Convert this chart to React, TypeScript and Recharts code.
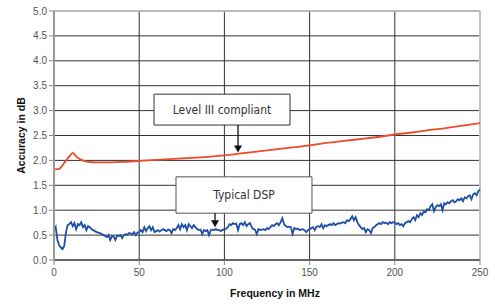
import React from "react";
import {
  LineChart,
  Line,
  XAxis,
  YAxis,
  CartesianGrid,
  ReferenceArea,
  ReferenceLine,
} from "recharts";

// red curve: Level III compliant limit
const redFreq: number[] = [0, 3, 6, 9, 11, 13, 16, 20, 25, 30, 40, 50, 60, 70, 80, 90, 100, 110, 120, 130, 140, 150, 160, 170, 180, 190, 200, 210, 220, 230, 240, 250];
const redVal: number[] = [1.82, 1.83, 1.95, 2.08, 2.15, 2.08, 2.01, 1.97, 1.96, 1.96, 1.97, 1.99, 2.01, 2.03, 2.05, 2.07, 2.1, 2.14, 2.18, 2.22, 2.26, 2.3, 2.35, 2.39, 2.43, 2.47, 2.52, 2.56, 2.61, 2.65, 2.7, 2.75];

// blue curve: typical DSP, one reading per MHz from 0 to 250
const blueVal: number[] = [
  0.6, 0.66, 0.4, 0.3, 0.25, 0.22, 0.28, 0.55, 0.7, 0.72,
  0.76, 0.68, 0.74, 0.62, 0.72, 0.7, 0.76, 0.66, 0.7, 0.6,
  0.68, 0.66, 0.62, 0.6, 0.58, 0.56, 0.55, 0.54, 0.52, 0.5,
  0.48, 0.46, 0.5, 0.4, 0.48, 0.47, 0.4, 0.49, 0.48, 0.5,
  0.44, 0.5, 0.52, 0.51, 0.54, 0.53, 0.52, 0.56, 0.5, 0.55,
  0.56, 0.6, 0.56, 0.66, 0.58, 0.64, 0.68, 0.6, 0.66, 0.56,
  0.58, 0.6, 0.57, 0.6, 0.62, 0.6, 0.58, 0.61, 0.6, 0.54,
  0.62, 0.6, 0.64, 0.7, 0.62, 0.72, 0.66, 0.7, 0.6, 0.72,
  0.68, 0.64, 0.7, 0.66, 0.62, 0.6, 0.61, 0.52, 0.6, 0.58,
  0.6, 0.5, 0.6, 0.61, 0.6, 0.62, 0.6, 0.6, 0.58, 0.61,
  0.6, 0.63, 0.66, 0.72, 0.7, 0.74, 0.72, 0.73, 0.6, 0.72,
  0.74, 0.7, 0.76, 0.68, 0.72, 0.74, 0.66, 0.62, 0.61, 0.52,
  0.62, 0.6, 0.61, 0.62, 0.6, 0.64, 0.62, 0.66, 0.7, 0.68,
  0.72, 0.74, 0.7, 0.76, 0.84, 0.72, 0.68, 0.66, 0.67, 0.66,
  0.52, 0.64, 0.62, 0.63, 0.6, 0.61, 0.62, 0.6, 0.56, 0.6,
  0.62, 0.64, 0.66, 0.6, 0.67, 0.68, 0.66, 0.72, 0.64, 0.7,
  0.68, 0.7, 0.72, 0.7, 0.74, 0.7, 0.72, 0.74, 0.73, 0.75,
  0.76, 0.74, 0.8, 0.78, 0.82, 0.88, 0.8, 0.86, 0.76, 0.7,
  0.66, 0.62, 0.64, 0.56, 0.62, 0.6, 0.54, 0.64, 0.66, 0.7,
  0.72, 0.74, 0.72, 0.76, 0.74, 0.75, 0.72, 0.76, 0.74, 0.76,
  0.75, 0.72, 0.74, 0.7, 0.72, 0.68, 0.74, 0.76, 0.78, 0.76,
  0.82, 0.86, 0.8, 0.9, 0.86, 0.94, 0.9, 0.98, 0.96, 1.02,
  1.0, 1.08, 1.12, 0.98, 1.06, 1.1, 1.08, 1.12, 1.0, 1.14,
  1.12, 1.16, 1.14, 1.18, 1.2, 1.16, 1.18, 1.22, 1.2, 1.24,
  1.18, 1.26, 1.24, 1.28, 1.3, 1.22, 1.32, 1.34, 1.3, 1.38,
  1.42,
];

const xTicks: number[] = [0, 50, 100, 150, 200, 250];
const yTicks: number[] = [0, 0.5, 1, 1.5, 2, 2.5, 3, 3.5, 4, 4.5, 5];

const redData = redFreq.map((f, i) => ({ f, v: redVal[i] }));
const blueData = blueVal.map((v, i) => ({ f: i, v }));

const tickFont = { fontFamily: "Liberation Sans, Arial, sans-serif", fontSize: 10, fill: "#555" };
const boxFont = { fontFamily: "DejaVu Sans Condensed, DejaVu Sans, sans-serif", fontSize: 12, fill: "#333" };

const Arrow = (p: any) => {
  const { x1, y1, x2, y2 } = p;
  return (
    <g>
      <line x1={x1} y1={y1} x2={x2} y2={y2 - 6} stroke="#111" strokeWidth={1.3} />
      <polygon points={`${x2 - 4},${y2 - 7} ${x2 + 4},${y2 - 7} ${x2},${y2}`} fill="#111" />
    </g>
  );
};

export default function App() {
  return (
    <div style={{ position: "absolute", left: 0, top: 0, width: 495, height: 305, background: "#fff" }}>
      <LineChart width={495} height={305} margin={{ top: 11, right: 15, left: 0, bottom: 0 }}>
        <CartesianGrid stroke="#333" strokeWidth={1} />
        <XAxis
          type="number"
          dataKey="f"
          domain={[0, 250]}
          ticks={xTicks}
          height={45}
          tick={tickFont}
          tickSize={5}
          tickMargin={4}
          axisLine={{ stroke: "#333" }}
          tickLine={{ stroke: "#888" }}
          allowDuplicatedCategory={false}
          label={{
            content: (props: any) => {
              const vb = props.viewBox;
              return (
                <text
                  x={vb.x + vb.width / 2 + 8}
                  y={vb.y + 37}
                  textAnchor="middle"
                  style={{ fontFamily: "Liberation Sans, Arial, sans-serif", fontSize: 10.5, fontWeight: "bold", fill: "#111" }}
                >
                  Frequency in MHz
                </text>
              );
            },
          }}
        />
        <YAxis
          type="number"
          domain={[0, 5]}
          ticks={yTicks}
          width={54}
          tick={tickFont}
          tickSize={5}
          tickMargin={2}
          tickFormatter={(v: number) => v.toFixed(1)}
          axisLine={{ stroke: "#999", strokeWidth: 2 }}
          tickLine={{ stroke: "#888" }}
          label={{
            content: (props: any) => {
              const vb = props.viewBox;
              const cx = 21;
              const cy = vb.y + vb.height / 2;
              return (
                <text
                  x={cx}
                  y={cy}
                  transform={`rotate(-90 ${cx} ${cy})`}
                  textAnchor="middle"
                  dominantBaseline="central"
                  style={{ fontFamily: "Liberation Sans, Arial, sans-serif", fontSize: 10.5, fontWeight: "bold", fill: "#111" }}
                >
                  Accuracy in dB
                </text>
              );
            },
          }}
        />
        <ReferenceLine y={5} stroke="#c4c4c4" strokeWidth={1.5} />
        <ReferenceLine x={250} stroke="#c4c4c4" strokeWidth={2} />
        <ReferenceArea
          x1={58.7}
          x2={138.5}
          y1={2.71}
          y2={3.33}
          fill="#fff"
          fillOpacity={1}
          stroke="#333"
          strokeWidth={1}
          ifOverflow="visible"
          label={{ value: "Level III compliant", position: "center", ...boxFont }}
        />
        <ReferenceArea
          x1={71.6}
          x2={151.4}
          y1={0.94}
          y2={1.67}
          fill="#fff"
          fillOpacity={1}
          stroke="#555"
          strokeWidth={1}
          ifOverflow="visible"
          label={{ value: "Typical DSP", position: "center", ...boxFont }}
        />
        <ReferenceLine segment={[{ x: 108, y: 2.71 }, { x: 108, y: 2.16 }]} shape={Arrow} ifOverflow="visible" />
        <ReferenceLine segment={[{ x: 94.5, y: 0.94 }, { x: 94.5, y: 0.66 }]} shape={Arrow} ifOverflow="visible" />
        <Line
          data={blueData}
          dataKey="v"
          type="linear"
          stroke="#1f4fa6"
          strokeWidth={1.8}
          dot={false}
          isAnimationActive={false}
        />
        <Line
          data={redData}
          dataKey="v"
          type="monotone"
          stroke="#ee4a2c"
          strokeWidth={1.8}
          dot={false}
          isAnimationActive={false}
        />
      </LineChart>
    </div>
  );
}
